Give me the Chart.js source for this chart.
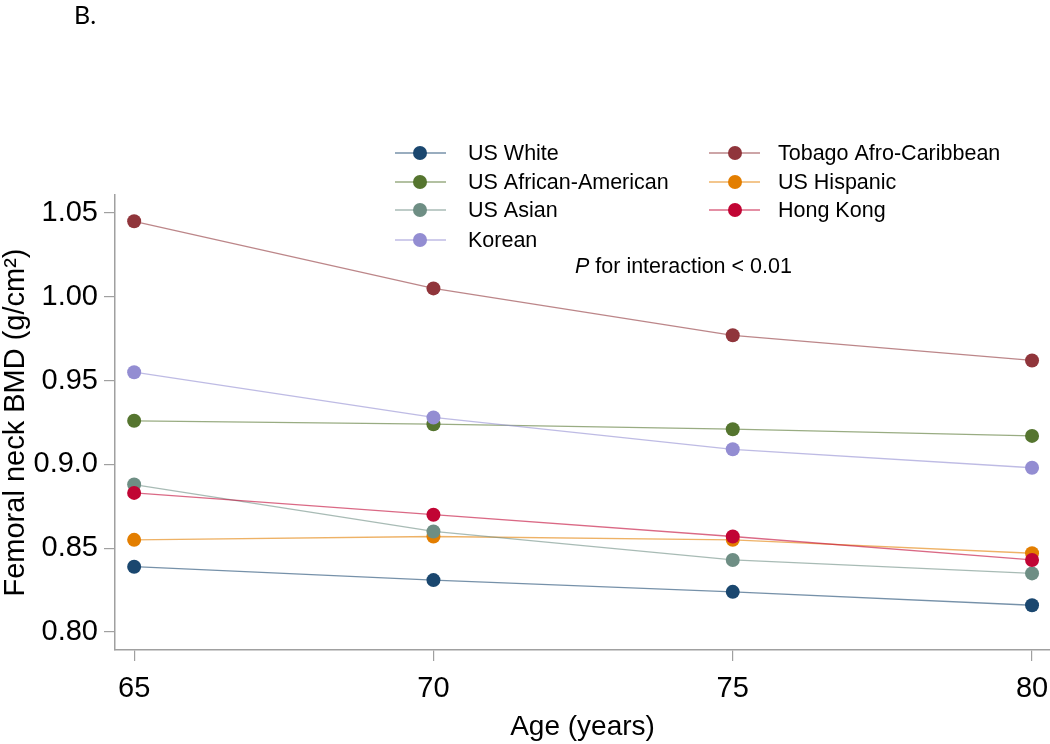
<!DOCTYPE html>
<html>
<head>
<meta charset="utf-8">
<script src="https://cdn.jsdelivr.net/npm/chart.js@4"></script>
<style>
  body { margin: 0; background: #fff; }
  #wrap { width: 1050px; height: 744px; }
</style>
</head>
<body>
<div id="wrap"><canvas id="bmdChart" width="1050" height="744"></canvas></div>
<script>
// data
const ages = [65, 70, 75, 80];
const xTicks = [65, 70, 75, 80];
const yTicks = [0.80, 0.85, 0.90, 0.95, 1.00, 1.05];
const yTickLabels = ["0.80", "0.85", "0.9.0", "0.95", "1.00", "1.05"];

const usWhite = [0.839, 0.831, 0.824, 0.816];
const tobago = [1.045, 1.005, 0.977, 0.962];
const usAfricanAmerican = [0.926, 0.924, 0.921, 0.917];
const usHispanic = [0.855, 0.857, 0.855, 0.847];
const usAsian = [0.888, 0.860, 0.843, 0.835];
const hongKong = [0.883, 0.870, 0.857, 0.843];
const korean = [0.955, 0.928, 0.909, 0.898];

const seriesNames = ["US White", "Tobago Afro-Caribbean", "US African-American", "US Hispanic", "US Asian", "Hong Kong", "Korean"];
const seriesValues = [usWhite, tobago, usAfricanAmerican, usHispanic, usAsian, hongKong, korean];
const seriesColors = ["#1a476f", "#90353b", "#55752f", "#e37e00", "#6e8e84", "#c10534", "#938dd2"];

function fade(hex, a) {
    const n = parseInt(hex.slice(1), 16);
    return `rgba(${n >> 16}, ${(n >> 8) & 255}, ${n & 255}, ${a})`;
}

const datasets = seriesNames.map((name, i) => ({
    label: name,
    data: ages.map((a, j) => ({ x: a, y: seriesValues[i][j] })),
    borderColor: fade(seriesColors[i], 0.6),
    borderWidth: 1.3,
    backgroundColor: seriesColors[i],
    pointBackgroundColor: seriesColors[i],
    pointBorderColor: seriesColors[i],
    pointBorderWidth: 0,
    pointRadius: 7,
    tension: 0,
    clip: false,
    order: seriesNames.length - i
}));

const FONT = "'Liberation Sans', Arial, sans-serif";

// legend laid out in two columns like the original, plus panel letter and note
const extrasPlugin = {
    id: "extras",
    afterDraw(chart) {
        const c = chart.ctx;
        c.save();
        // panel letter
        c.fillStyle = "#000";
        c.font = "25px Lato, 'Open Sans', sans-serif";
        c.textBaseline = "middle";
        c.textAlign = "left";
        c.fillText("B.", 74, 16);

        const cols = [
            { lineX0: 395, lineX1: 446, dotX: 420, textX: 468, items: [0, 2, 4, 6] },
            { lineX0: 709, lineX1: 760, dotX: 735, textX: 778, items: [1, 3, 5] }
        ];
        const rowY = [153, 182, 210, 240];
        c.font = "21.5px " + FONT;
        cols.forEach(col => {
            col.items.forEach((idx, r) => {
                const y = rowY[r];
                c.strokeStyle = fade(seriesColors[idx], 0.6);
                c.lineWidth = 1.3;
                c.beginPath();
                c.moveTo(col.lineX0, y);
                c.lineTo(col.lineX1, y);
                c.stroke();
                c.fillStyle = seriesColors[idx];
                c.beginPath();
                c.arc(col.dotX, y, 7, 0, Math.PI * 2);
                c.fill();
                c.fillStyle = "#000";
                c.fillText(seriesNames[idx], col.textX, y + 1);
            });
        });

        // interaction note
        c.font = "italic 21.5px " + FONT;
        c.fillText("P", 575, 267);
        const pw = c.measureText("P").width;
        c.font = "21.5px " + FONT;
        c.fillText(" for interaction < 0.01", 575 + pw, 267);
        c.restore();
    }
};

new Chart(document.getElementById("bmdChart"), {
    type: "line",
    data: { datasets: datasets },
    options: {
        responsive: false,
        animation: false,
        devicePixelRatio: 1,
        layout: { autoPadding: false, padding: { top: 195, right: 0, left: 0, bottom: 0 } },
        plugins: {
            legend: { display: false },
            tooltip: { enabled: false }
        },
        scales: {
            x: {
                type: "linear",
                min: 64.68,
                max: 80.3,
                afterBuildTicks: s => { s.ticks = xTicks.map(v => ({ value: v })); },
                afterFit: s => { s.height = 94; s.paddingLeft = 0; s.paddingRight = 0; },
                grid: { drawOnChartArea: false, drawTicks: true, tickLength: 11, color: "#a0a0a0", lineWidth: 1.2 },
                border: { color: "#a0a0a0", width: 1.5 },
                ticks: { color: "#000", font: { family: FONT, size: 29 }, padding: 11, maxRotation: 0 },
                title: { display: true, text: "Age (years)", color: "#000", font: { family: FONT, size: 28 }, padding: { top: 0, bottom: 0 } }
            },
            y: {
                type: "linear",
                min: 0.7893,
                max: 1.0607,
                afterBuildTicks: s => { s.ticks = yTicks.map(v => ({ value: v })); },
                afterFit: s => { s.width = 115; s.paddingTop = 0; s.paddingBottom = 0; },
                grid: { drawOnChartArea: false, drawTicks: true, tickLength: 11, color: "#a0a0a0", lineWidth: 1.2 },
                border: { color: "#a0a0a0", width: 1.5 },
                ticks: {
                    color: "#000",
                    font: { family: FONT, size: 29 },
                    padding: 6,
                    callback: (v, i) => yTickLabels[yTicks.findIndex(t => Math.abs(t - v) < 1e-6)]
                },
                title: { display: true, text: "Femoral neck BMD (g/cm²)", color: "#000", font: { family: FONT, size: 29, lineHeight: 1.0 }, padding: 1 }
            }
        }
    },
    plugins: [extrasPlugin]
});
</script>
</body>
</html>
